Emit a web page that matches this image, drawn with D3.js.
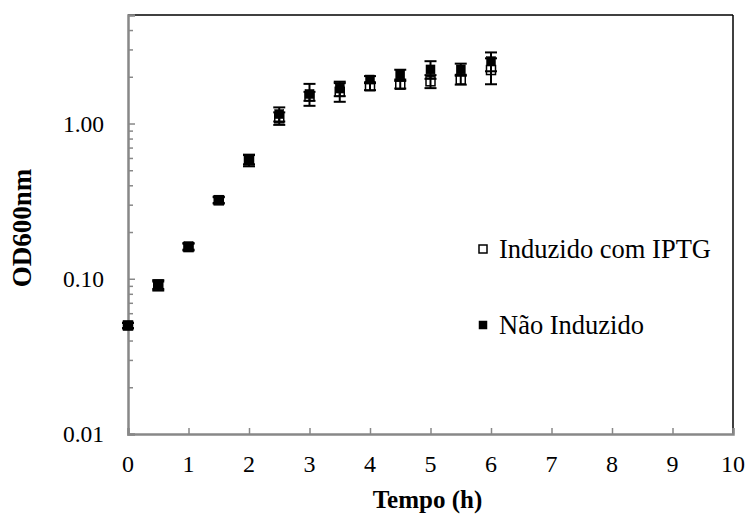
<!DOCTYPE html>
<html>
<head>
<meta charset="utf-8">
<script src="https://cdn.jsdelivr.net/npm/d3@7"></script>
<style>
  html, body { margin: 0; padding: 0; background: #fff; }
  svg { display: block; }
  text { font-family: "Liberation Serif", "Times New Roman", serif; fill: #000; }
</style>
</head>
<body>
<svg id="chart" width="749" height="517"></svg>
<script>
// ---- data ----
const times = [0, 0.5, 1, 1.5, 2, 2.5, 3, 3.5, 4, 4.5, 5, 5.5, 6];
const induzidoValues = [0.05, 0.09, 0.16, 0.32, 0.58, 1.08, 1.50, 1.60, 1.74, 1.78, 1.87, 1.92, 2.21];
const induzidoErrors = [0.002, 0.006, 0.008, 0.015, 0.05, 0.10, 0.10, 0.22, 0.10, 0.10, 0.18, 0.14, 0.42];
const naoInduzidoValues = [0.05, 0.092, 0.162, 0.323, 0.586, 1.15, 1.55, 1.68, 1.92, 2.07, 2.23, 2.23, 2.52];
const naoInduzidoErrors = [0.002, 0.006, 0.008, 0.015, 0.04, 0.12, 0.25, 0.18, 0.10, 0.15, 0.29, 0.20, 0.35];
const xTicks = [0, 1, 2, 3, 4, 5, 6, 7, 8, 9, 10];
const yMajorTicks = [0.01, 0.1, 1];
const yTickLabels = ["0.01", "0.10", "1.00"];
const seriesNames = ["Induzido com IPTG", "Não Induzido"];
const xTitle = "Tempo (h)";
const yTitle = "OD600nm";

// ---- layout ----
const svg = d3.select("#chart");
const L = 128, R = 733, T = 15, B = 434;
const x = d3.scaleLinear().domain([0, 10]).range([L, R]);
const y = d3.scaleLog().domain([0.01, 5]).range([B, T]);

// minor ticks for log axis
const yMinor = [];
[0.01, 0.1, 1].forEach(d => { for (let k = 2; k <= 9; k++) { const v = d * k; if (v <= 5) yMinor.push(v); } });

// frame: top and right border black
svg.append("line").attr("x1", L).attr("x2", R).attr("y1", T).attr("y2", T).attr("stroke", "#000").attr("stroke-width", 1.5);
svg.append("line").attr("x1", R).attr("x2", R).attr("y1", T).attr("y2", B).attr("stroke", "#000").attr("stroke-width", 1.5);

// left axis (ticks inside)
const gy = svg.append("g").attr("transform", `translate(${L},0)`);
gy.call(d3.axisRight(y).tickValues(yMajorTicks).tickSize(7).tickFormat(""));
gy.append("g").call(d3.axisRight(y).tickValues(yMinor).tickSize(5).tickFormat(""));
gy.selectAll("path.domain").attr("stroke", "#888").attr("stroke-width", 2.5);
gy.selectAll(".tick line").attr("stroke", "#888").attr("stroke-width", 1.5);
gy.selectAll("g > g > path.domain").remove();

// y tick labels
svg.append("g").selectAll("text").data(yMajorTicks).join("text")
  .attr("x", L - 24).attr("y", d => y(d)).attr("dy", "0.35em")
  .attr("text-anchor", "end").attr("font-size", 23.5)
  .text((d, i) => yTickLabels[i]);

// bottom axis (ticks inside)
const gx = svg.append("g").attr("transform", `translate(0,${B})`);
gx.call(d3.axisTop(x).tickValues(xTicks).tickSize(6).tickFormat(""));
gx.selectAll("path.domain").attr("stroke", "#888").attr("stroke-width", 2.5);
gx.selectAll(".tick line").attr("stroke", "#888").attr("stroke-width", 1.5);

svg.append("g").selectAll("text").data(xTicks).join("text")
  .attr("x", d => x(d)).attr("y", 464).attr("dy", "0.35em")
  .attr("text-anchor", "middle").attr("font-size", 24)
  .text(d => d);

// axis titles
svg.append("text").attr("x", (L + R) / 2 - 3).attr("y", 508)
  .attr("text-anchor", "middle").attr("font-size", 25).attr("font-weight", "bold").text(xTitle);
svg.append("text").attr("transform", `translate(31,${228}) rotate(-90)`)
  .attr("text-anchor", "middle").attr("font-size", 27).attr("font-weight", "bold").text(yTitle);

// series
const series = [
  { name: seriesNames[1], values: naoInduzidoValues, errors: naoInduzidoErrors, filled: true },
  { name: seriesNames[0], values: induzidoValues, errors: induzidoErrors, filled: false }
];
const cap = 6, ms = 9;
series.forEach(s => {
  const pts = times.map((t, i) => ({ t, v: s.values[i], e: s.errors[i] }));
  const g = svg.append("g");
  const eb = g.selectAll("g.eb").data(pts).join("g");
  eb.append("line").attr("x1", d => x(d.t)).attr("x2", d => x(d.t))
    .attr("y1", d => y(d.v + d.e)).attr("y2", d => y(d.v - d.e)).attr("stroke", "#000").attr("stroke-width", 2);
  eb.append("line").attr("x1", d => x(d.t) - cap).attr("x2", d => x(d.t) + cap)
    .attr("y1", d => y(d.v + d.e)).attr("y2", d => y(d.v + d.e)).attr("stroke", "#000").attr("stroke-width", 2);
  eb.append("line").attr("x1", d => x(d.t) - cap).attr("x2", d => x(d.t) + cap)
    .attr("y1", d => y(d.v - d.e)).attr("y2", d => y(d.v - d.e)).attr("stroke", "#000").attr("stroke-width", 2);
  g.selectAll("rect").data(pts).join("rect")
    .attr("x", d => x(d.t) - ms / 2).attr("y", d => y(d.v) - ms / 2)
    .attr("width", ms).attr("height", ms)
    .attr("fill", s.filled ? "#000" : "none")
    .attr("stroke", "#000").attr("stroke-width", s.filled ? 0.5 : 1.5);
});

// legend
const legend = [
  { name: seriesNames[0], filled: false, y: 249 },
  { name: seriesNames[1], filled: true, y: 325 }
];
const lg = svg.append("g");
legend.forEach(l => {
  lg.append("rect").attr("x", 483 - 4).attr("y", l.y - 4).attr("width", 8).attr("height", 8)
    .attr("fill", l.filled ? "#000" : "#fff").attr("stroke", "#000").attr("stroke-width", l.filled ? 0.5 : 1.5);
  lg.append("text").attr("x", 499).attr("y", l.y).attr("dy", "0.35em").attr("font-size", 26.5).text(l.name);
});
</script>
</body>
</html>
